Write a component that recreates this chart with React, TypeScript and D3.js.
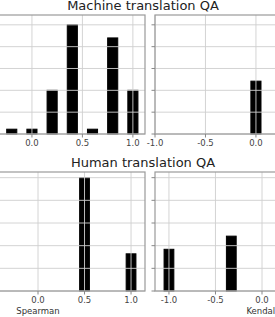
import * as d3 from "d3";

const W = 275;
const H = 317;

// values (y in gridline units)
const xTicks = [-1, -0.5, 0, 0.5, 1];
const yTicks = [0, 1, 2, 3, 4, 5];

const machineSpearmanX = [-0.2, 0, 0.2, 0.4, 0.6, 0.8, 1.0];
const machineSpearmanY = [0.22, 0.22, 2, 5, 0.22, 4.4, 2];
const machineKendallX = [0];
const machineKendallY = [2.42];
const humanSpearmanX = [0.5, 1.0];
const humanSpearmanY = [5, 1.64];
const humanKendallX = [-1, -0.33];
const humanKendallY = [1.84, 2.42];

const titles = ["Machine translation QA", "Human translation QA"];
const xLabels = ["Spearman", "Kendall"];

const leftCol = [-69, 145];
const rightCol = [155, 369];
const topRow = { top: 15, bottom: 134, xDomain: [-1.0, 1.12], yMax: 5.45, barW: 0.1 };
const botRow = { top: 172, bottom: 291, xDomain: [-1.15, 1.15], yMax: 5.25, barW: 0.105 };

const fmt = (v) => d3.format(".1f")(v).replace("\u2212", "-");

const Panel = ({ col, row, xs, ys, xlabel, yTickMarks }) => {
  const x = d3.scaleLinear().domain(row.xDomain).range(col);
  const y = d3.scaleLinear().domain([0, row.yMax]).range([row.bottom, row.top]);
  const half = row.barW / 2;
  return (
    <g>
      {xs.map((v, i) => (
        <rect
          key={i}
          x={x(v - half)}
          y={y(ys[i])}
          width={x(v + half) - x(v - half)}
          height={y(0) - y(ys[i])}
          fill="#000"
          stroke="#000"
          strokeWidth={1}
        />
      ))}
      {xTicks.map((t) => (
        <line key={"gx" + t} x1={x(t)} x2={x(t)} y1={row.top} y2={row.bottom} stroke="#cfcfcf" strokeWidth={0.9} />
      ))}
      {yTicks.map((t) => (
        <line key={"gy" + t} x1={col[0]} x2={col[1]} y1={y(t)} y2={y(t)} stroke="#cfcfcf" strokeWidth={0.9} />
      ))}
      <rect x={col[0]} y={row.top} width={col[1] - col[0]} height={row.bottom - row.top} fill="none" stroke="#9a9a9a" strokeWidth={1.2} />
      {xTicks.map((t) => (
        <g key={"tx" + t}>
          <line x1={x(t)} x2={x(t)} y1={row.bottom} y2={row.bottom + 3.5} stroke="#888" />
          <text x={x(t)} y={row.bottom + 12} fontSize={8.5} textAnchor="middle" fill="#444" fontFamily="DejaVu Sans">
            {fmt(t)}
          </text>
        </g>
      ))}
      {yTickMarks &&
        yTicks.map((t) => (
          <line key={"ty" + t} x1={col[0] - 3.5} x2={col[0]} y1={y(t)} y2={y(t)} stroke="#888" />
        ))}
      {xlabel && (
        <text x={(col[0] + col[1]) / 2} y={row.bottom + 23} fontSize={8.5} textAnchor="middle" fill="#333" fontFamily="DejaVu Sans">
          {xlabel}
        </text>
      )}
    </g>
  );
};

export default function App() {
  return (
    <svg width={W} height={H} style={{ position: "absolute", left: 0, top: 0, background: "#fff" }}>
      <Panel col={leftCol} row={topRow} xs={machineSpearmanX} ys={machineSpearmanY} />
      <Panel col={rightCol} row={topRow} xs={machineKendallX} ys={machineKendallY} yTickMarks />
      <Panel col={leftCol} row={botRow} xs={humanSpearmanX} ys={humanSpearmanY} xlabel={xLabels[0]} />
      <Panel col={rightCol} row={botRow} xs={humanKendallX} ys={humanKendallY} xlabel={xLabels[1]} yTickMarks />
      <text x={143} y={10} fontSize={13} textAnchor="middle" fill="#222" fontFamily="DejaVu Sans">
        {titles[0]}
      </text>
      <text x={143} y={166.5} fontSize={13} textAnchor="middle" fill="#222" fontFamily="DejaVu Sans">
        {titles[1]}
      </text>
    </svg>
  );
}
